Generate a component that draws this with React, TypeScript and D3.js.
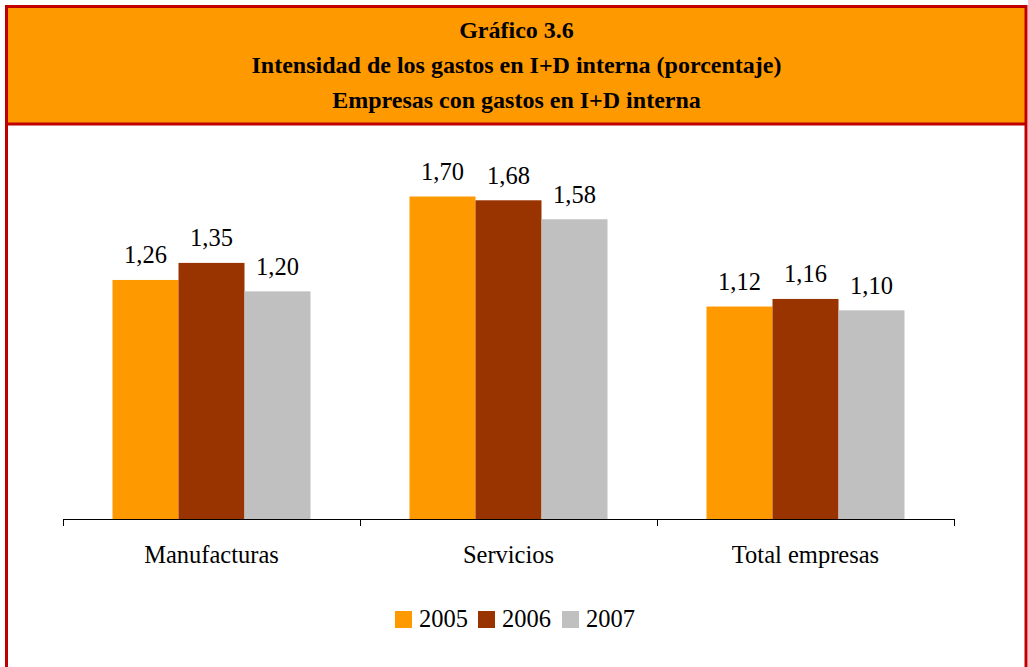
import React from "react";
import * as d3 from "d3";

const categories = ["Manufacturas", "Servicios", "Total empresas"];
const years = ["2005", "2006", "2007"];
const values2005 = [1.26, 1.70, 1.12];
const values2006 = [1.35, 1.68, 1.16];
const values2007 = [1.20, 1.58, 1.10];
const colors = ["#FF9900", "#993300", "#C0C0C0"];
const titleLines = [
  "Gráfico 3.6",
  "Intensidad de los gastos en I+D interna (porcentaje)",
  "Empresas con gastos en I+D interna",
];

const W = 1028;
const H = 667;
const font = "Liberation Serif";

export default function App() {
  const series = [values2005, values2006, values2007];
  const x0 = d3.scaleBand<string>().domain(categories).range([63, 954]).paddingInner(0).paddingOuter(0);
  const x1 = d3.scaleBand<string>().domain(years).range([0, x0.bandwidth()]).paddingInner(0).paddingOuter(0.75);
  const y = d3.scaleLinear().domain([0, 1.7]).range([519, 196.5]);
  const fmt = (v: number) => v.toFixed(2).replace(".", ",");
  const txt = { fontFamily: font };

  return (
    <svg width={W} height={H} style={{ position: "absolute", left: 0, top: 0, display: "block" }}>
      <rect x={0} y={0} width={W} height={H} fill="#fff" />
      {/* title box */}
      <rect x={6.5} y={6.5} width={1019.5} height={117.5} fill="#FF9900" />
      {titleLines.map((t, i) => (
        <text key={i} x={516.5} y={38.3 + i * 35} textAnchor="middle" style={{ ...txt, fontWeight: "bold" }} fontSize={24}>
          {t}
        </text>
      ))}
      {/* borders */}
      <line x1={6.5} y1={124} x2={1026} y2={124} stroke="#C00000" strokeWidth={3} />
      <rect x={6.5} y={6.5} width={1019.5} height={H + 10} fill="none" stroke="#C00000" strokeWidth={3} />

      {/* bars */}
      {categories.map((c, ci) => (
        <g key={c} transform={`translate(${x0(c)},0)`}>
          {years.map((yr, si) => {
            const v = series[si][ci];
            const bx = x1(yr)!;
            return (
              <g key={yr}>
                <rect x={bx} y={y(v)} width={x1.bandwidth()} height={519 - y(v)} fill={colors[si]} />
                <text
                  x={bx + x1.bandwidth() / 2}
                  y={y(v) - 16.5}
                  textAnchor="middle"
                  style={txt}
                  fontSize={24.5}
                  fill="#000"
                >
                  {fmt(v)}
                </text>
              </g>
            );
          })}
          <text x={x0.bandwidth() / 2} y={563} textAnchor="middle" style={txt} fontSize={24.5} fill="#000">
            {c}
          </text>
        </g>
      ))}

      {/* axis */}
      <line x1={63} y1={519.5} x2={954} y2={519.5} stroke="#000" strokeWidth={1} />
      {[...categories.map((c) => x0(c)!), 954].map((t, i) => (
        <line key={i} x1={t + 0.5} y1={519} x2={t + 0.5} y2={526} stroke="#000" strokeWidth={1} />
      ))}

      {/* legend */}
      {years.map((yr, i) => {
        const lx = [395, 478, 562][i];
        return (
          <g key={yr}>
            <rect x={lx} y={611} width={17} height={17} fill={colors[i]} />
            <text x={lx + 24} y={627} style={txt} fontSize={24.5} fill="#000">
              {yr}
            </text>
          </g>
        );
      })}
    </svg>
  );
}
